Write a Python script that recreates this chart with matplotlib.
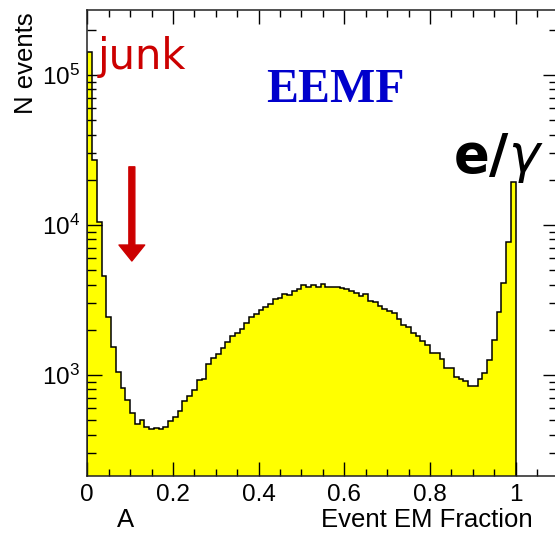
import numpy as np
import matplotlib
matplotlib.use("Agg")
import matplotlib.pyplot as plt
from matplotlib.ticker import MultipleLocator, LogLocator, FuncFormatter

plt.rcParams['font.family'] = ['Liberation Sans', 'DejaVu Sans']
plt.rcParams['mathtext.fontset'] = 'custom'
plt.rcParams['mathtext.rm'] = 'Liberation Sans'

# 90 bins between 0 and 1, counts
n_bins = 90
counts = [142000, 27100, 10500, 4600, 2450, 1540, 1050, 820, 681, 555,
          469, 501, 452, 437, 441, 435, 452, 496, 527, 575,
          671, 724, 794, 926, 940, 1178, 1292, 1374, 1507, 1660,
          1820, 1897, 2026, 2232, 2425, 2531, 2712, 2828, 2951, 3211,
          3261, 3467, 3415, 3631, 3744, 3963, 3878, 3963, 3878, 4024,
          3878, 3878, 3860, 3819, 3726, 3631, 3537, 3362, 3467, 3113,
          3052, 2897, 2742, 2684, 2578, 2351, 2154, 2080, 1914, 1820,
          1693, 1585, 1395, 1391, 1273, 1118, 1113, 965, 940, 912,
          838, 838, 933, 1031, 1249, 1711, 2630, 4105, 7638, 19440]
edges = np.linspace(0, 1, n_bins + 1)

x_ticks = [0, 0.2, 0.4, 0.6, 0.8, 1.0]

fig = plt.figure(figsize=(5.55, 5.34), dpi=100)
ax = fig.add_axes([0.1573, 0.1086, 0.849, 0.8727])

ax.stairs(counts, edges, fill=True, color='#ffff00', baseline=1)
ax.stairs(counts, edges, color='black', lw=1.1, baseline=1)

ax.set_yscale('log')
ax.set_xlim(0, 1.1)
ax.set_ylim(212, 2.71e5)

ax.xaxis.set_minor_locator(MultipleLocator(0.05))
ax.set_xticks(x_ticks)
ax.xaxis.set_major_formatter(FuncFormatter(lambda v, p: '%g' % v))
ax.yaxis.set_major_locator(LogLocator(base=10))
ax.yaxis.set_minor_locator(LogLocator(base=10, subs=np.arange(2, 10)))

ax.tick_params(which='both', direction='in', top=True, right=True,
               labelsize=17.5, width=1)
ax.tick_params(axis='x', which='major', length=10, pad=6)
ax.tick_params(axis='x', which='minor', length=5)
ax.tick_params(axis='y', which='major', length=10.5, pad=5)
ax.tick_params(axis='y', which='minor', length=6.5)
ax.yaxis.set_tick_params(which='minor', labelleft=False)
for s in ax.spines.values():
    s.set_linewidth(1.1)
    s.set_color('#222222')

fig.text(533 / 555, 7 / 534, 'Event EM Fraction', ha='right', va='baseline',
         fontsize=18.5)
fig.text(126 / 555, 7 / 534, 'A', ha='center', va='baseline', fontsize=18.5)
fig.text(26 / 555, 1 - 12 / 534, 'N events', rotation=90, ha='center',
         va='top', fontsize=18.5)

# annotations
ax.text(0.025, 1.1e5, 'junk', color='#cc0000', fontsize=30,
        family='DejaVu Sans', va='baseline', ha='left')
ax.text(0.578, 6.6e4, 'EEMF', color='#0000cc', fontsize=34.5,
        family='Liberation Serif', weight='bold', ha='center', va='baseline')
ax.text(1.066, 2.25e4, r'e/$\gamma$', color='black', fontsize=38,
        family='DejaVu Sans', weight='bold', ha='right', va='baseline')
ax.annotate('', xy=(0.104, 5750), xytext=(0.104, 24400),
            arrowprops=dict(facecolor='#cc0000', edgecolor='#cc0000',
                            width=4.3, headwidth=18.5, headlength=11.5,
                            shrink=0))

fig.savefig('out.png', dpi=100)
